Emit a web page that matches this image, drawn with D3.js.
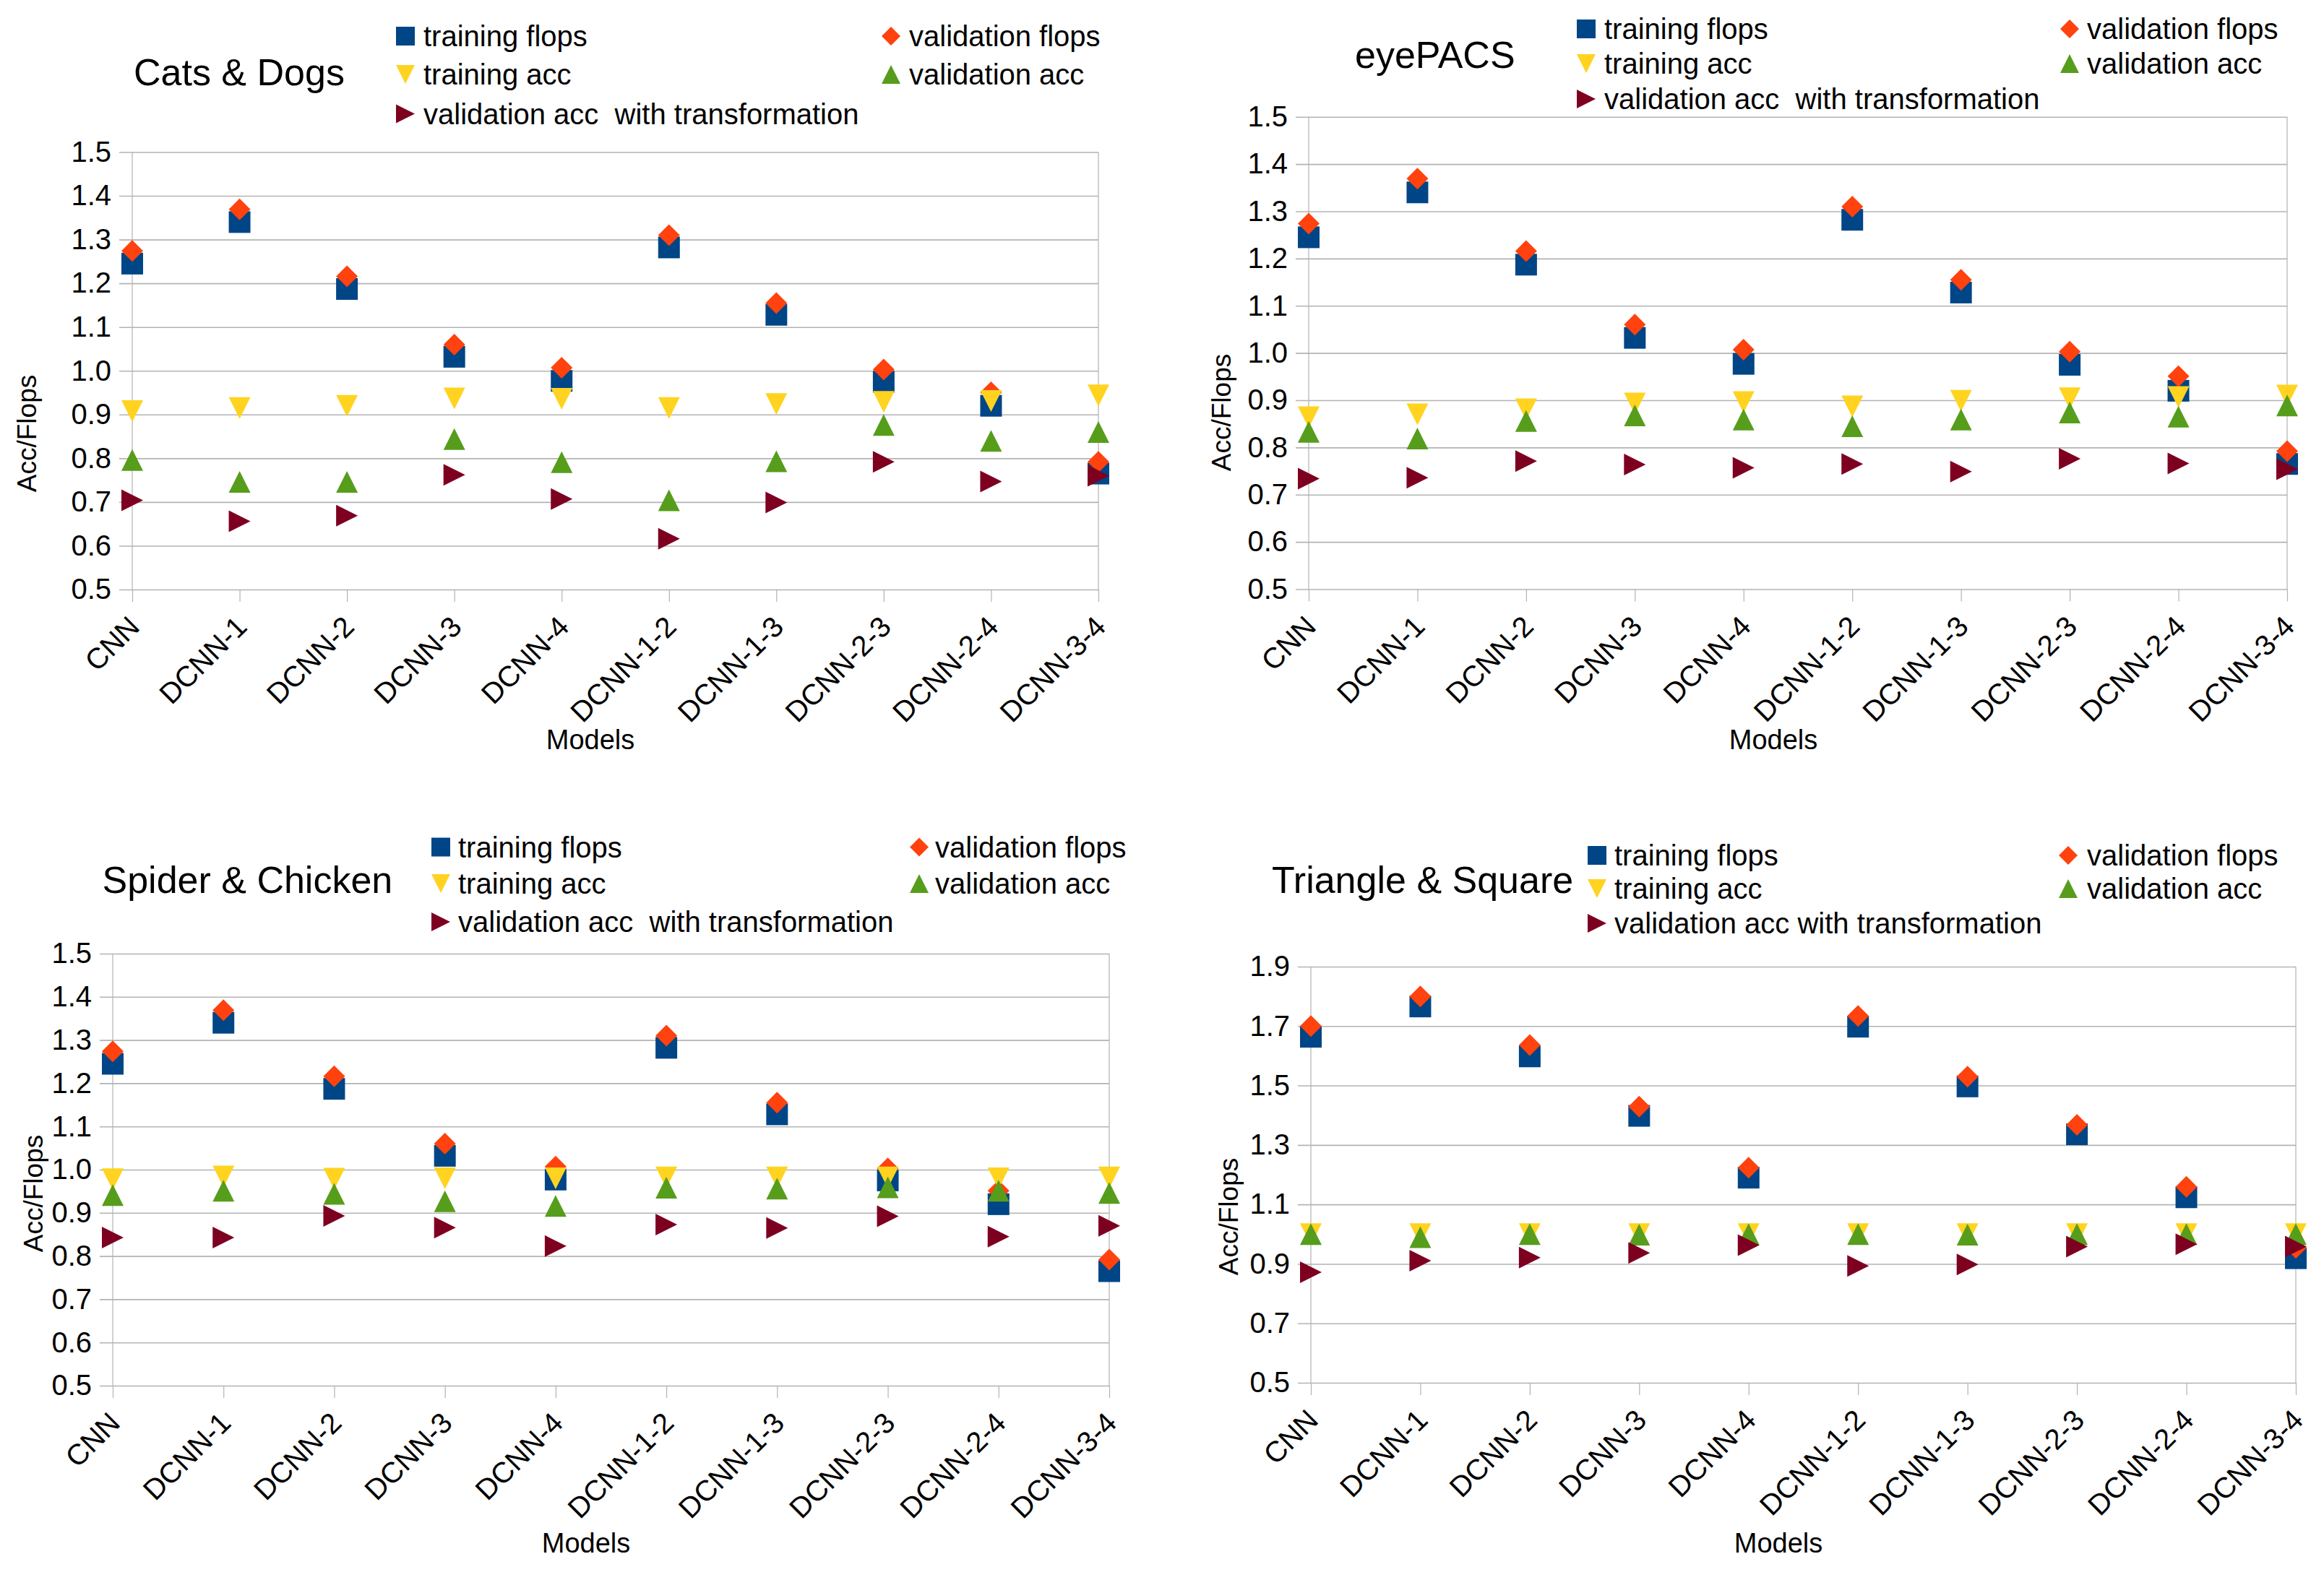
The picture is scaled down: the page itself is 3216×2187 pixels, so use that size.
<!DOCTYPE html>
<html>
<head>
<meta charset="utf-8">
<script src="https://cdnjs.cloudflare.com/ajax/libs/d3/7.8.5/d3.min.js"></script>
<style>
body { margin: 0; background: #fff; }
text { font-family: "Liberation Sans", Arial, sans-serif; fill: #000; }
</style>
</head>
<body>
<svg id="chart" width="3216" height="2187"></svg>
<script>
// categories and labels
var models = ['CNN', 'DCNN-1', 'DCNN-2', 'DCNN-3', 'DCNN-4', 'DCNN-1-2', 'DCNN-1-3', 'DCNN-2-3', 'DCNN-2-4', 'DCNN-3-4'];
var seriesNames = ['training flops', 'validation flops', 'training acc', 'validation acc', 'validation acc  with transformation'];
var seriesNamesTS = ['training flops', 'validation flops', 'training acc', 'validation acc', 'validation acc with transformation'];
var titles = ['Cats & Dogs', 'eyePACS', 'Spider & Chicken', 'Triangle & Square'];
var ticksA = [0.5, 0.6, 0.7, 0.8, 0.9, 1.0, 1.1, 1.2, 1.3, 1.4, 1.5];
var ticksB = [0.5, 0.7, 0.9, 1.1, 1.3, 1.5, 1.7, 1.9];

// flops ratios, the same for the first three data sets
var trainFlops = [1.245, 1.340, 1.187, 1.032, 0.977, 1.282, 1.128, 0.975, 0.920, 0.765];
var valFlops = [1.274, 1.369, 1.216, 1.060, 1.007, 1.310, 1.155, 1.003, 0.951, 0.792];

var catsTrainAcc = [0.908, 0.915, 0.920, 0.937, 0.936, 0.915, 0.924, 0.929, 0.931, 0.944];
var catsValAcc = [0.796, 0.746, 0.746, 0.844, 0.791, 0.704, 0.793, 0.876, 0.840, 0.860];
var catsValAccTr = [0.704, 0.656, 0.669, 0.762, 0.707, 0.616, 0.699, 0.792, 0.747, 0.760];

var eyeTrainAcc = [0.864, 0.870, 0.881, 0.893, 0.896, 0.887, 0.899, 0.904, 0.907, 0.910];
var eyeValAcc = [0.833, 0.819, 0.856, 0.868, 0.859, 0.845, 0.859, 0.874, 0.865, 0.889];
var eyeValAccTr = [0.734, 0.736, 0.771, 0.764, 0.757, 0.765, 0.749, 0.776, 0.766, 0.754];

var spiderTrainAcc = [0.978, 0.984, 0.979, 0.980, 0.980, 0.982, 0.982, 0.982, 0.980, 0.982];
var spiderValAcc = [0.941, 0.951, 0.944, 0.927, 0.916, 0.958, 0.956, 0.959, 0.951, 0.946];
var spiderValAccTr = [0.843, 0.843, 0.893, 0.866, 0.823, 0.873, 0.865, 0.892, 0.845, 0.870];

var triTrainFlops = [1.664, 1.766, 1.598, 1.398, 1.190, 1.698, 1.497, 1.336, 1.124, 0.919];
var triValFlops = [1.700, 1.800, 1.636, 1.429, 1.224, 1.734, 1.530, 1.368, 1.159, 0.954];
var triTrainAcc = [1.0, 1.0, 1.0, 1.0, 1.0, 1.0, 1.0, 1.0, 1.0, 1.0];
var triValAcc = [1.0, 0.99, 1.0, 0.998, 1.0, 1.0, 0.998, 1.0, 1.0, 1.0];
var triValAccTr = [0.872, 0.911, 0.921, 0.937, 0.963, 0.893, 0.898, 0.958, 0.966, 0.958];

var colors = ['#004586', '#ff420e', '#ffd320', '#579d1c', '#7e0021'];
var shapes = ['square', 'diamond', 'down', 'up', 'right'];
var gridColor = '#b3b3b3';

// where each panel sits on the page
var panels = [
    {title: titles[0], names: seriesNames, ticks: ticksA,
     series: [trainFlops, valFlops, catsTrainAcc, catsValAcc, catsValAccTr],
     plot: {x0: 183, x1: 1520, y0: 210.5, y1: 816},
     titlePos: [185, 118], legX: [561, 586, 1233, 1258], legY: [50, 103, 157.5],
     yLab: [37, 600], xLab: [817, 1037]},
    {title: titles[1], names: seriesNames, ticks: ticksA,
     series: [trainFlops, valFlops, eyeTrainAcc, eyeValAcc, eyeValAccTr],
     plot: {x0: 1811, x1: 3165, y0: 161.7, y1: 815.5},
     titlePos: [1875, 94], legX: [2195, 2220, 2864, 2888], legY: [40, 88, 137],
     yLab: [1690, 571], xLab: [2454, 1037]},
    {title: titles[2], names: seriesNames, ticks: ticksA,
     series: [trainFlops, valFlops, spiderTrainAcc, spiderValAcc, spiderValAccTr],
     plot: {x0: 156, x1: 1535, y0: 1320, y1: 1918},
     titlePos: [141.5, 1236], legX: [610, 634, 1272, 1294], legY: [1172.5, 1223, 1276],
     yLab: [46, 1652], xLab: [811, 2149]},
    {title: titles[3], names: seriesNamesTS, ticks: ticksB,
     series: [triTrainFlops, triValFlops, triTrainAcc, triValAcc, triValAccTr],
     plot: {x0: 1814, x1: 3177, y0: 1338, y1: 1914},
     titlePos: [1760, 1236], legX: [2210, 2234, 2862, 2888], legY: [1184, 1230, 1278],
     yLab: [1700, 1684], xLab: [2461, 2149]}
];

function markerPath(shape, s) {
    var h = s / 2;
    if (shape === 'square') return `M${-h},${-h}H${h}V${h}H${-h}Z`;
    if (shape === 'diamond') return `M0,${-h}L${h},0L0,${h}L${-h},0Z`;
    if (shape === 'down') return `M${-h},${-h}H${h}L0,${h}Z`;
    if (shape === 'up') return `M${-h},${h}H${h}L0,${-h}Z`;
    return `M${-h},${-h}L${h},0L${-h},${h}Z`;
}

var svg = d3.select('#chart');
svg.append('rect').attr('width', 3216).attr('height', 2187).attr('fill', '#fff');

function drawPanel(p) {
    var g = svg.append('g');
    var w = p.plot.x1 - p.plot.x0;

    var xScale = d3.scalePoint()
        .domain(models)
        .range([p.plot.x0, p.plot.x1])
        .padding(0);
    var yScale = d3.scaleLinear()
        .domain([p.ticks[0], p.ticks[p.ticks.length - 1]])
        .range([p.plot.y1, p.plot.y0]);

    // y axis with grid lines
    var yAxis = g.append('g')
        .attr('transform', `translate(${p.plot.x0},0)`)
        .call(d3.axisLeft(yScale).tickValues(p.ticks).tickFormat(d3.format('.1f'))
            .tickSize(18).tickPadding(11));
    yAxis.select('.domain').remove();
    yAxis.selectAll('.tick line')
        .attr('x1', -18).attr('x2', w)
        .attr('stroke', gridColor).attr('stroke-width', 1.6);
    yAxis.selectAll('.tick text')
        .style('font-size', '40px');

    // side borders of the plot area
    g.selectAll('.side')
        .data([p.plot.x0, p.plot.x1])
        .enter().append('line')
        .attr('x1', d => d).attr('x2', d => d)
        .attr('y1', p.plot.y0).attr('y2', p.plot.y1)
        .attr('stroke', gridColor).attr('stroke-width', 1.2);

    // x axis
    var xAxis = g.append('g')
        .attr('transform', `translate(0,${p.plot.y1})`)
        .call(d3.axisBottom(xScale).tickSize(17));
    xAxis.select('.domain').remove();
    xAxis.selectAll('.tick line')
        .attr('stroke', gridColor).attr('stroke-width', 1.2);
    xAxis.selectAll('.tick text')
        .attr('x', 0).attr('y', 0).attr('dy', 0)
        .attr('transform', 'translate(12,54) rotate(-45)')
        .style('text-anchor', 'end')
        .style('font-size', '40px');

    // markers
    p.series.forEach(function(values, si) {
        g.append('g').selectAll('path')
            .data(values)
            .enter().append('path')
            .attr('d', markerPath(shapes[si], 30))
            .attr('transform', (d, i) => `translate(${xScale(models[i])},${yScale(d)})`)
            .attr('fill', colors[si]);
    });

    // title
    g.append('text')
        .attr('x', p.titlePos[0]).attr('y', p.titlePos[1])
        .style('font-size', '52px')
        .text(p.title);

    // legend
    var leg = g.selectAll('.leg')
        .data(p.names)
        .enter().append('g')
        .attr('class', 'leg');
    leg.append('path')
        .attr('d', (d, i) => markerPath(shapes[i], 26))
        .attr('transform', (d, i) => `translate(${p.legX[(i % 2) * 2]},${p.legY[Math.floor(i / 2)]})`)
        .attr('fill', (d, i) => colors[i]);
    leg.append('text')
        .attr('x', (d, i) => p.legX[(i % 2) * 2 + 1])
        .attr('y', (d, i) => p.legY[Math.floor(i / 2)] + 14)
        .style('font-size', '40px')
        .style('white-space', 'pre')
        .attr('xml:space', 'preserve')
        .text(d => d);

    // axis titles
    g.append('text')
        .attr('transform', `translate(${p.yLab[0]},${p.yLab[1]}) rotate(-90)`)
        .attr('text-anchor', 'middle')
        .attr('dominant-baseline', 'central')
        .style('font-size', '37px')
        .text('Acc/Flops');
    g.append('text')
        .attr('x', p.xLab[0]).attr('y', p.xLab[1])
        .attr('text-anchor', 'middle')
        .style('font-size', '38px')
        .text('Models');
}

panels.forEach(drawPanel);
</script>
</body>
</html>
